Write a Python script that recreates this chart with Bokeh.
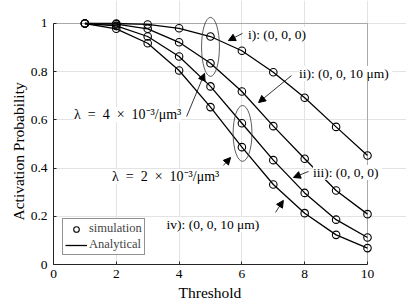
from bokeh.plotting import figure
from bokeh.models import (Label, Arrow, NormalHead, Legend, LegendItem, Title, BoxAnnotation,
                          FixedTicker, PrintfTickFormatter, Range1d)
from bokeh.embed import file_html
from bokeh.resources import INLINE

# ---------------- data ----------------
thresholds = [1, 2, 3, 4, 5, 6, 7, 8, 9, 10]
curve_i = [1.0, 1.0, 0.996, 0.980, 0.946, 0.887, 0.798, 0.692, 0.571, 0.452]
curve_ii = [1.0, 0.997, 0.978, 0.922, 0.835, 0.718, 0.574, 0.439, 0.307, 0.209]
curve_iii = [1.0, 0.990, 0.946, 0.863, 0.739, 0.586, 0.433, 0.297, 0.186, 0.112]
curve_iv = [1.0, 0.978, 0.918, 0.805, 0.653, 0.487, 0.332, 0.213, 0.123, 0.068]
series = [curve_i, curve_ii, curve_iii, curve_iv]

x_ticks = [0, 2, 4, 6, 8, 10]
y_ticks = [0, 0.2, 0.4, 0.6, 0.8, 1]

FONT = "Liberation Serif"
INK = "#262626"

# frame is extended right/up so the annotations may leave the axes box, as in the original
p = figure(width=406, height=305, output_backend="svg", toolbar_location=None,
           x_range=Range1d(0, 11.242), y_range=Range1d(0, 1.0954),
           min_border_left=53, min_border_right=0, min_border_top=0, min_border_bottom=41)
p.background_fill_color = "white"
p.border_fill_color = "white"
p.outline_line_color = None

for ax, ticks, bnd in ((p.xaxis[0], x_ticks, (0, 10)), (p.yaxis[0], y_ticks, (0, 1))):
    ax.ticker = FixedTicker(ticks=ticks)
    ax.formatter = PrintfTickFormatter(format="%g")
    ax.bounds = bnd
    ax.major_tick_in = 3
    ax.major_tick_out = 0
    ax.minor_tick_line_color = None
    ax.axis_line_color = INK
    ax.major_tick_line_color = INK
    ax.major_label_text_font = FONT
    ax.major_label_text_font_size = "13.5px"
    ax.major_label_text_color = "black"
p.xaxis.major_label_standoff = 5
p.yaxis.major_label_standoff = 6

p.xgrid.ticker = FixedTicker(ticks=x_ticks)
p.ygrid.ticker = FixedTicker(ticks=y_ticks)
p.xgrid.bounds = (0, 1)
p.ygrid.bounds = (0, 10)
p.grid.grid_line_color = "#e3e3e3"
p.grid.grid_line_width = 1

# axes box
p.add_layout(BoxAnnotation(left=0, right=10, bottom=0, top=1, fill_color=None, fill_alpha=0,
                           line_color=INK, line_width=1))

# axis titles
p.add_layout(Title(text="Threshold", align="left", offset=125, standoff=2, text_font=FONT,
                   text_font_size="15.5px", text_font_style="normal", text_color="black"),
             "below")
p.add_layout(Title(text="Activation Probability", align="left", offset=44, standoff=2,
                   text_font=FONT, text_font_size="15.5px", text_font_style="normal",
                   text_color="black"), "left")

line_r = None
sc_r = None
for s in series:
    lr = p.line(thresholds, s, line_color="black", line_width=1.3)
    sr = p.scatter(thresholds, s, marker="circle", size=7.5, fill_color=None,
                   line_color="black", line_width=1.1)
    line_r = line_r or lr
    sc_r = sc_r or sr

# ellipses
p.ellipse(x=[5.0], y=[0.903], width=0.57, height=0.245, fill_color=None,
          line_color="#333333", line_width=0.8)
p.ellipse(x=[6.02], y=[0.544], width=0.6, height=0.232, fill_color=None,
          line_color="#333333", line_width=0.8)

# annotations
EN = "\u2002"
ann = [
    (7.17, 0.954, "i):  (0, 0, 0)", "13.5px"),
    (9.30, 0.793, "ii):  (0, 0, 10 μm)", "13.5px"),
    (9.36, 0.382, "iii):  (0, 0, 0)", "13.5px"),
    (5.13, 0.166, "iv):  (0, 0, 10 μm)", "13.5px"),
    (2.36, 0.622, "λ" + EN + "=" + EN + "4" + EN + "×" + EN + "10⁻³/μm³", "14px"),
    (3.57, 0.365, "λ" + EN + "=" + EN + "2" + EN + "×" + EN + "10⁻³/μm³", "14px"),
]
for x, y, t, fs in ann:
    p.add_layout(Label(x=x, y=y, text=t, text_align="center", text_baseline="middle",
                       text_font=FONT, text_font_size=fs, text_color="black",
                       background_fill_color="white"))

arrows = [
    (6.02, 0.959, 5.57, 0.929),
    (7.58, 0.784, 6.53, 0.672),
    (8.12, 0.386, 7.64, 0.361),
    (7.07, 0.216, 7.32, 0.266),
    (4.24, 0.614, 4.81, 0.793),
    (5.41, 0.411, 5.64, 0.444),
]
for x0, y0, x1, y1 in arrows:
    p.add_layout(Arrow(end=NormalHead(size=7, fill_color="black", line_color="black"),
                       x_start=x0, y_start=y0, x_end=x1, y_end=y1,
                       line_color="black", line_width=0.8))

legend = Legend(items=[LegendItem(label="simulation", renderers=[sc_r]),
                       LegendItem(label="Analytical", renderers=[line_r])],
                location=(9, 9), label_text_font=FONT, label_text_font_size="12.5px",
                glyph_width=22, glyph_height=14, label_height=14, padding=2, spacing=1,
                margin=0, label_standoff=2, border_line_color=INK, border_line_width=0.8,
                background_fill_color="white", background_fill_alpha=1)
p.add_layout(legend)

open("out.html", "w").write(file_html(p, INLINE))
